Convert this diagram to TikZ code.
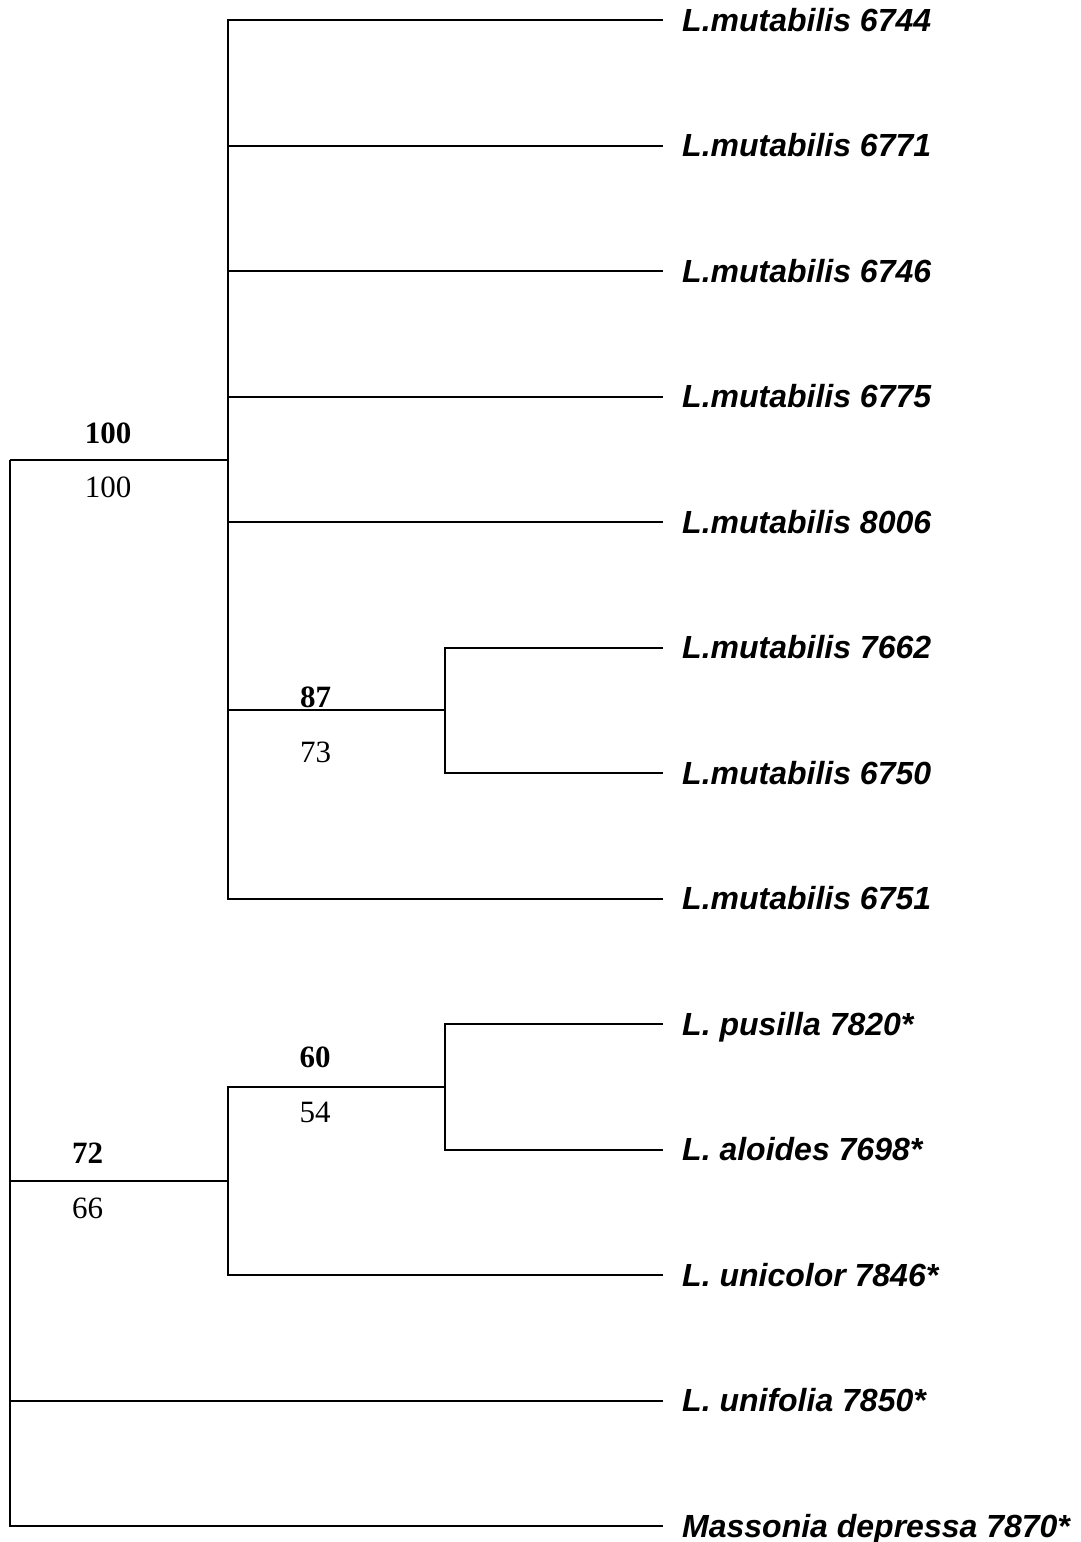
\documentclass[tikz,border=0pt]{standalone}
\usepackage{fontspec}
\setmainfont{Liberation Serif}
\newfontfamily\taxonfont{Liberation Sans}
\usetikzlibrary{positioning}

\begin{document}
\begin{tikzpicture}[
  x=1pt, y=-1pt,
  branch/.style={line width=2pt},
  taxon/.style={anchor=base west, inner sep=0pt, font=\taxonfont\bfseries\itshape\fontsize{32}{36}\selectfont},
  boot/.style={anchor=base, inner sep=0pt, font=\fontsize{31}{36}\selectfont},
  bootbold/.style={boot, font=\bfseries\fontsize{31}{36}\selectfont},
]
\useasboundingbox (0,0) rectangle (1081,1542);

% leaf tips and their names
\foreach \name/\y/\txt in {
  m6744/20/{L.mutabilis 6744},
  m6771/145.5/{L.mutabilis 6771},
  m6746/271/{L.mutabilis 6746},
  m6775/396.5/{L.mutabilis 6775},
  m8006/522/{L.mutabilis 8006},
  m7662/647.5/{L.mutabilis 7662},
  m6750/773/{L.mutabilis 6750},
  m6751/898.5/{L.mutabilis 6751},
  pus/1024/{L. pusilla 7820*},
  alo/1149.5/{L. aloides 7698*},
  uni/1275/{L. unicolor 7846*},
  unf/1400.5/{L. unifolia 7850*},
  mas/1526/{Massonia depressa 7870*}} {
  \coordinate (\name) at (663,\y);
  \node[taxon] (\name-lbl) at ([xshift=19pt,yshift=-11pt]\name) {\txt};
}

% internal nodes
\coordinate (root) at (10,459.5);
\coordinate (n100) at (228,459.5);
\coordinate (n87) at (445,710);
\coordinate (n72) at (228,1181);
\coordinate (n60) at (445,1087);

% branches
\foreach \kid in {m6744,m6771,m6746,m6775,m8006,n87,m6751}
  \draw[branch] (n100) |- (\kid);
\foreach \kid in {m7662,m6750}
  \draw[branch] (n87) |- (\kid);
\foreach \kid in {pus,alo}
  \draw[branch] (n60) |- (\kid);
\foreach \kid in {n60,uni}
  \draw[branch] (n72) |- (\kid);
\foreach \kid in {n100,n72,unf,mas}
  \draw[branch] (root) |- (\kid);

% support values
\node[bootbold] (b100) at (108,443) {100};
\node[boot] (p100) at (108,497) {100};
\node[bootbold] (b87) at (315.5,707) {87};
\node[boot] (p87) at (315.5,762) {73};
\node[bootbold] (b60) at (315,1067) {60};
\node[boot] (p60) at (315,1122) {54};
\node[bootbold] (b72) at (87.5,1163) {72};
\node[boot] (p72) at (87.5,1218) {66};
\end{tikzpicture}
\end{document}
